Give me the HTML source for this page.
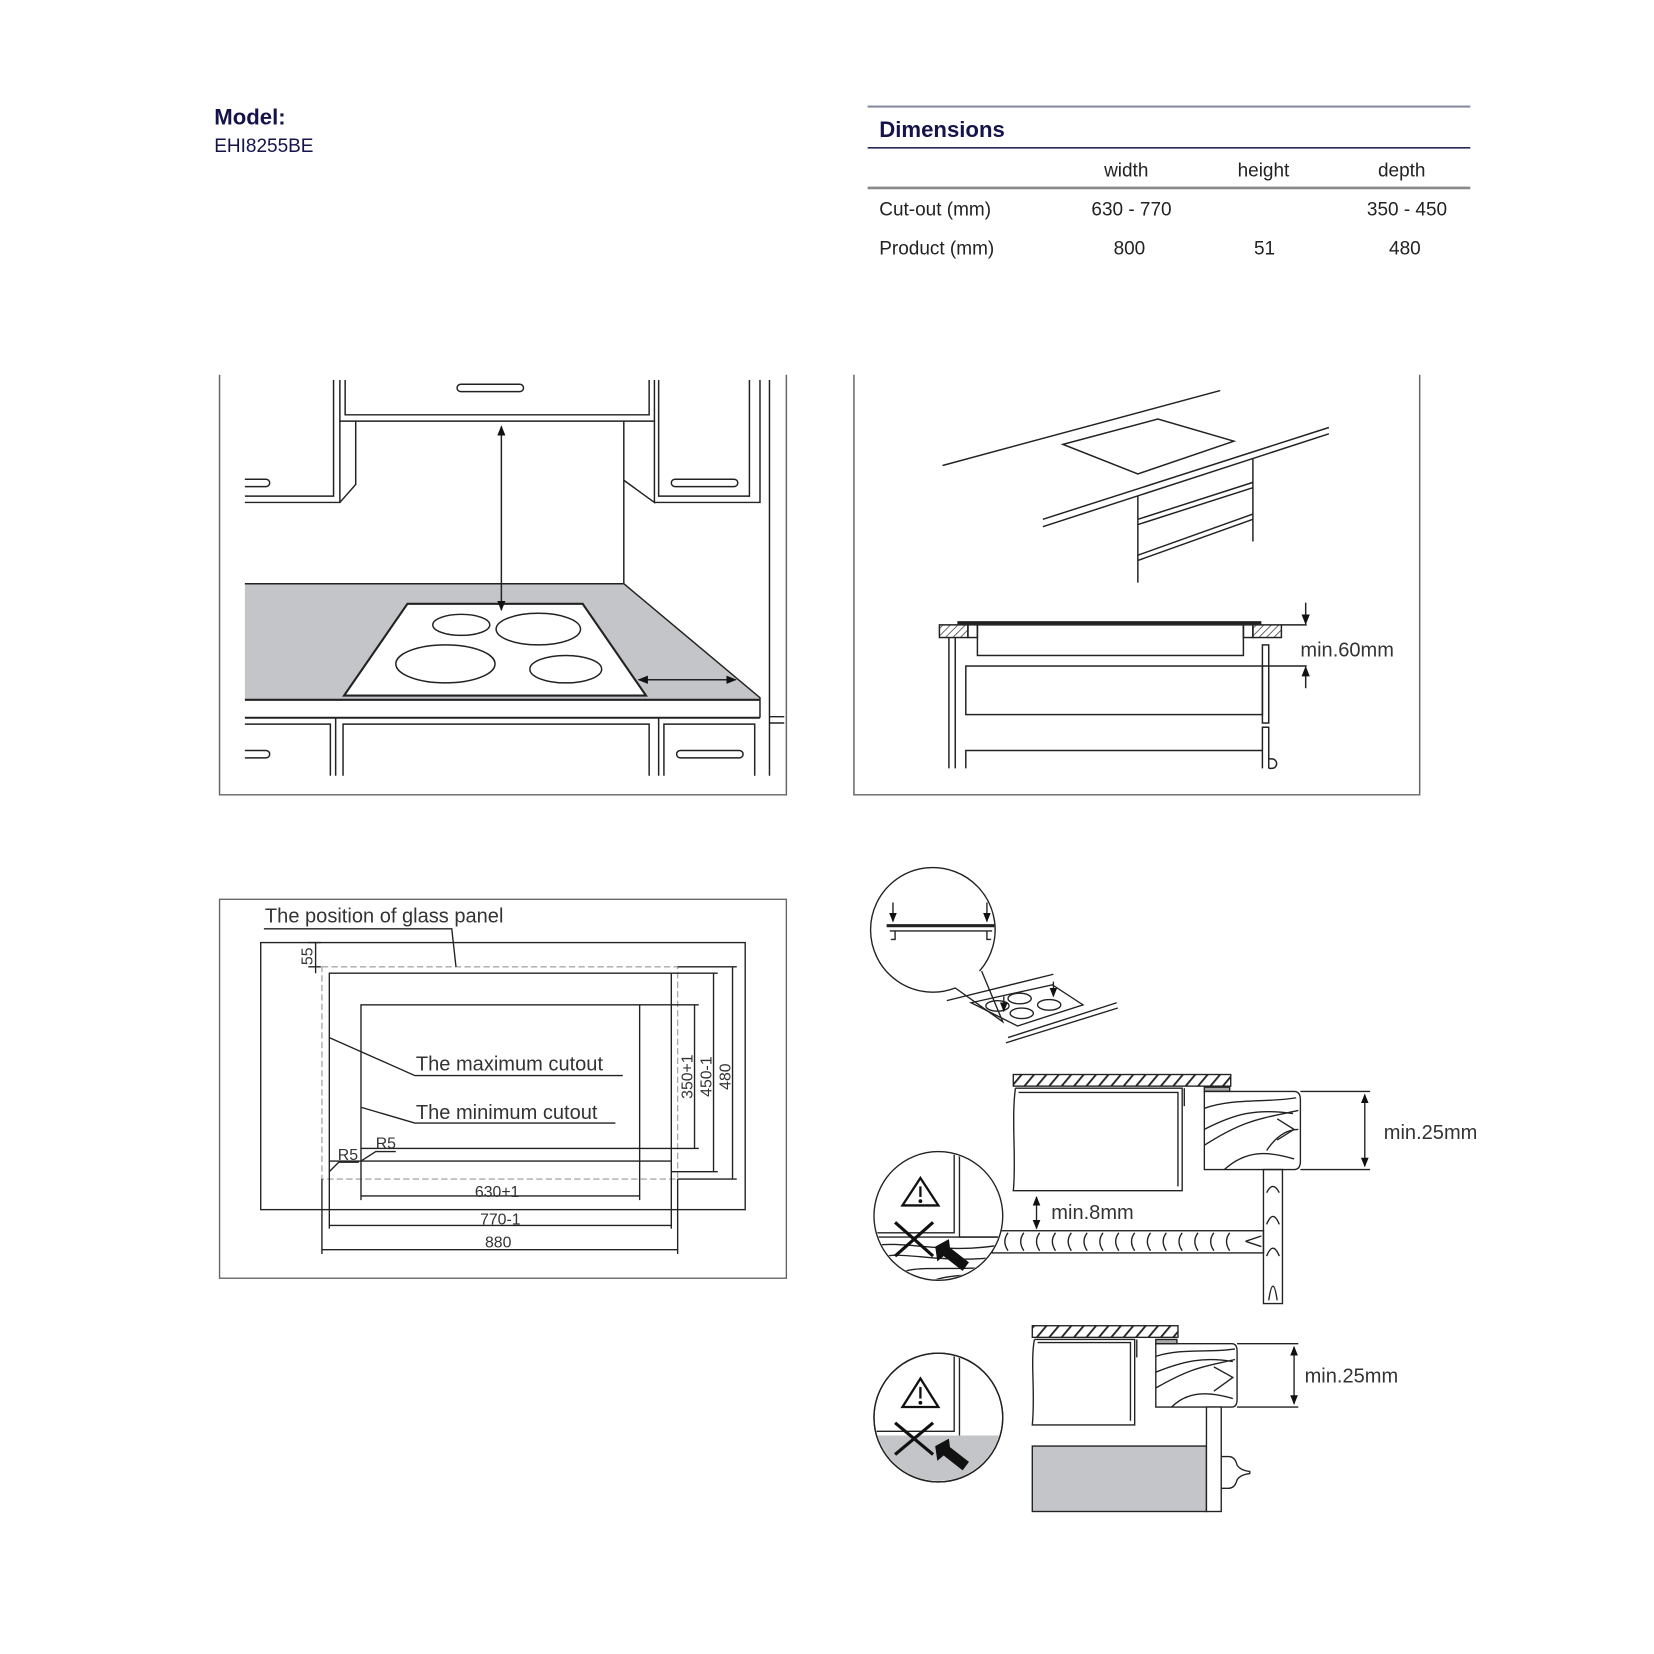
<!DOCTYPE html>
<html><head><meta charset="utf-8"><style>
html,body{margin:0;padding:0;background:#fff;}
svg{display:block;}
text{font-family:"Liberation Sans",sans-serif;}
</style></head><body>
<svg width="1654" height="1654" viewBox="0 0 1567 1567" xmlns="http://www.w3.org/2000/svg">
<defs>
<pattern id="hatch" width="5" height="5" patternUnits="userSpaceOnUse" patternTransform="rotate(45)">
<rect width="5" height="5" fill="#fff"/><line x1="0" y1="0" x2="0" y2="5" stroke="#333" stroke-width="1.4"/></pattern>
<pattern id="hatch2" width="9" height="9" patternUnits="userSpaceOnUse" patternTransform="rotate(40)">
<rect width="9" height="9" fill="#fff"/><line x1="0" y1="0" x2="0" y2="9" stroke="#222" stroke-width="3.5"/></pattern>
<marker id="ah" viewBox="0 0 10 10" refX="9" refY="5" markerWidth="7" markerHeight="7" orient="auto-start-reverse"><path d="M0,1 L10,5 L0,9 Z" fill="#111"/></marker>
<clipPath id="c2"><circle cx="889" cy="1152" r="60"/></clipPath>
<clipPath id="c3"><circle cx="889" cy="1343" r="60"/></clipPath>
</defs>

<text x="203" y="118" font-size="21" font-weight="bold" fill="#14134a">Model:</text>
<text x="203" y="144" font-size="18" fill="#14134a">EHI8255BE</text>

<line x1="822" y1="101" x2="1393" y2="101" stroke="#8a8ca0" stroke-width="2"/>
<text x="833" y="130" font-size="21" font-weight="bold" fill="#14134a">Dimensions</text>
<line x1="822" y1="140" x2="1393" y2="140" stroke="#2a2a5a" stroke-width="1.5"/>
<g font-size="18" fill="#222">
<text x="1067" y="167" text-anchor="middle">width</text>
<text x="1197" y="167" text-anchor="middle">height</text>
<text x="1328" y="167" text-anchor="middle">depth</text>
<text x="833" y="204">Cut-out (mm)</text>
<text x="1072" y="204" text-anchor="middle">630 - 770</text>
<text x="1333" y="204" text-anchor="middle">350 - 450</text>
<text x="833" y="241">Product (mm)</text>
<text x="1070" y="241" text-anchor="middle">800</text>
<text x="1198" y="241" text-anchor="middle">51</text>
<text x="1331" y="241" text-anchor="middle">480</text>
</g>
<line x1="822" y1="178" x2="1393" y2="178" stroke="#888" stroke-width="2.5"/>

<g fill="none" stroke="#222" stroke-width="1.4">
<path d="M208,355 V753 H745 V355" stroke="#666"/>
<polygon points="232,553 591,553 720,661 720,663 232,663" fill="#c4c5c8" stroke="none"/>
<path d="M591,553 L720,661 V680"/>
<line x1="232" y1="553" x2="591" y2="553"/>
<line x1="232" y1="663" x2="720" y2="663" stroke-width="2"/>
<line x1="232" y1="680" x2="720" y2="680" stroke-width="2"/>
<path d="M327,360 V393 H615 V360"/>
<path d="M316,360 V470 H232"/>
<path d="M322,360 V399 H620 V360"/>
<path d="M232,476 H322 V399"/>
<path d="M337,399 V459 L322,476"/>
<line x1="591" y1="399" x2="591" y2="553"/>
<path d="M591,455 L620,476 V399"/>
<path d="M620,476 H720 V360"/>
<path d="M624,360 V470 H710 V360"/>
<line x1="729" y1="360" x2="729" y2="735"/>
<path d="M729,679 H743 M729,685 H743"/>
<rect x="433" y="364" width="63" height="7" rx="3.5"/>
<path d="M232,454 H252 A3.5,3.5 0 0 1 252,461 H232"/>
<rect x="636" y="454" width="63" height="7" rx="3.5"/>
<polygon points="386,572 552,572 612,659 326,659" fill="#fff" stroke-width="2"/>
<ellipse cx="437" cy="592" rx="27" ry="10"/>
<ellipse cx="510" cy="596" rx="40" ry="15"/>
<ellipse cx="422" cy="629" rx="47" ry="18"/>
<ellipse cx="536" cy="634" rx="34" ry="13"/>
<line x1="475" y1="404" x2="475" y2="578" marker-start="url(#ah)" marker-end="url(#ah)"/>
<line x1="605" y1="644" x2="697" y2="644" marker-start="url(#ah)" marker-end="url(#ah)"/>
<path d="M232,686 H313 V735 M318,680 V735"/>
<path d="M325,735 V686 H615 V735"/>
<path d="M624,680 V735 M629,735 V686 H715 V735"/>
<path d="M232,711 H252 A3.5,3.5 0 0 1 252,718 H232"/>
<rect x="641" y="711" width="63" height="7" rx="3.5"/>
</g>

<g fill="none" stroke="#222" stroke-width="1.4">
<path d="M809,355 V753 H1345 V355" stroke="#666"/>
<line x1="893" y1="441" x2="1156" y2="370"/>
<polygon points="1007,421 1097,397 1169,418 1078,449"/>
<line x1="988" y1="492" x2="1259" y2="405"/>
<line x1="988" y1="499" x2="1259" y2="411"/>
<line x1="1078" y1="470" x2="1078" y2="552"/>
<line x1="1187" y1="434" x2="1187" y2="513"/>
<line x1="1078" y1="492" x2="1187" y2="457"/><line x1="1078" y1="497" x2="1187" y2="462"/>
<line x1="1078" y1="526" x2="1187" y2="487"/><line x1="1078" y1="531" x2="1187" y2="492"/>
<rect x="890" y="592" width="27" height="12" fill="url(#hatch)"/>
<rect x="1187" y="592" width="27" height="12" fill="url(#hatch)"/>
<line x1="907" y1="590" x2="1195" y2="590" stroke-width="3"/>
<rect x="917" y="592" width="9" height="12"/>
<rect x="1178" y="592" width="9" height="12"/>
<rect x="926" y="592" width="252" height="29"/>
<line x1="1214" y1="592" x2="1238" y2="592"/>
<line x1="1237" y1="571" x2="1237" y2="591" marker-end="url(#ah)"/>
<rect x="915" y="631" width="281" height="46"/>
<line x1="1196" y1="631" x2="1238" y2="631"/>
<line x1="1237" y1="652" x2="1237" y2="632" marker-end="url(#ah)"/>
<path d="M899,604 V728 M905,604 V728"/>
<rect x="1196" y="611" width="6" height="74"/>
<path d="M1196,728 V689 H1202 V728 M1202,719 h3 a4,4 0 0 1 0,9 h-3"/>
<path d="M915,728 V711 H1196"/>
</g>
<text x="1232" y="622" font-size="19" fill="#333">min.60mm</text>

<g fill="none" stroke="#222" stroke-width="1.3">
<rect x="208" y="852" width="537" height="359" stroke="#666"/>
<rect x="247" y="893" width="459" height="253"/>
<rect x="305" y="916" width="337" height="201" stroke="#aaa" stroke-dasharray="6,3"/>
<rect x="312" y="922" width="324" height="178"/>
<rect x="342" y="952" width="264" height="136"/>
<path d="M250,880 H428 L432,916"/>
<path d="M299,893 V922 M292,893 H304 M292,916 H304" />
<path d="M606,952 H662 M606,1088 H662 M658,952 V1088"/>
<path d="M636,922 H680 M636,1110 H680 M676,922 V1110"/>
<path d="M642,916 H698 M642,1117 H698 M694,916 V1117"/>
<path d="M305,1117 V1188 M312,1100 V1164 M342,1088 V1137 M606,1088 V1137 M636,1100 V1164 M642,1117 V1188"/>
<line x1="342" y1="1133" x2="606" y2="1133"/>
<line x1="312" y1="1161" x2="636" y2="1161"/>
<line x1="305" y1="1184" x2="642" y2="1184"/>
<path d="M312,983 L393,1019 H590"/>
<path d="M342,1049 L393,1064 H583"/>
<path d="M342,1100 L356,1091 H375"/>
<path d="M312,1110 L321,1101 H340"/>
</g>
<g fill="#333">
<text x="251" y="874" font-size="19">The position of glass panel</text>
<text x="394" y="1014" font-size="19">The maximum cutout</text>
<text x="394" y="1060" font-size="19">The minimum cutout</text>
<text x="356" y="1088" font-size="15">R5</text>
<text x="320" y="1099" font-size="15">R5</text>
<text x="471" y="1134" font-size="15" text-anchor="middle">630+1</text>
<text x="474" y="1160" font-size="15" text-anchor="middle">770-1</text>
<text x="472" y="1182" font-size="15" text-anchor="middle">880</text>
<text transform="translate(296,906) rotate(-90)" font-size="15" text-anchor="middle">55</text>
<text transform="translate(656,1020) rotate(-90)" font-size="15" text-anchor="middle">350+1</text>
<text transform="translate(674,1020) rotate(-90)" font-size="15" text-anchor="middle">450-1</text>
<text transform="translate(692,1020) rotate(-90)" font-size="15" text-anchor="middle">480</text>
</g>

<g fill="none" stroke="#222" stroke-width="1.3">
<path d="M928,920 A59,59 0 1 0 905,936 L950,968 L930,920"/>
<line x1="840" y1="877" x2="942" y2="877" stroke-width="3"/>
<line x1="843" y1="882" x2="940" y2="882"/>
<path d="M848,882 V890 H844 M935,882 V890 H939"/>
<line x1="846" y1="855" x2="846" y2="873" marker-end="url(#ah)"/>
<line x1="935" y1="855" x2="935" y2="873" marker-end="url(#ah)"/>
<line x1="897" y1="948" x2="998" y2="923"/>
<polygon points="920,950 997,933 1026,952 964,972"/>
<line x1="955" y1="983" x2="1058" y2="950"/>
<line x1="953" y1="988" x2="1059" y2="955"/>
<ellipse cx="966" cy="946" rx="11" ry="5"/>
<ellipse cx="994" cy="952" rx="11" ry="5"/>
<ellipse cx="945" cy="953" rx="11" ry="5"/>
<ellipse cx="968" cy="960" rx="11" ry="5"/>
<line x1="998" y1="930" x2="998" y2="944" marker-end="url(#ah)"/>
<line x1="951" y1="944" x2="951" y2="958" marker-end="url(#ah)"/>
</g>

<g fill="none" stroke="#222" stroke-width="1.3">
<rect x="960" y="1018" width="206" height="11" fill="url(#hatch2)"/>
<path d="M962,1031 H1120 V1128 H960 C963,1100 958,1060 962,1031"/>
<path d="M965,1035 H1116 V1124"/>
<line x1="1122" y1="1031" x2="1122" y2="1048"/>
<rect x="1141" y="1030" width="24" height="4" fill="#aaa"/>
<path d="M1141,1034 H1226 Q1232,1034 1232,1042 V1100 Q1232,1108 1226,1108 H1141 Z"/>
<path d="M1141,1050 C1170,1040 1200,1045 1228,1040 M1141,1070 C1170,1055 1190,1050 1225,1055 M1141,1085 C1180,1060 1195,1060 1230,1052 M1160,1108 C1180,1090 1200,1090 1226,1098 M1200,1090 C1210,1075 1220,1070 1230,1070 M1210,1080 L1226,1070 L1210,1060"/>
<path d="M1232,1034 H1298 M1232,1108 H1298"/>
<line x1="1293" y1="1037" x2="1293" y2="1105" marker-start="url(#ah)" marker-end="url(#ah)"/>
<rect x="1197" y="1108" width="18" height="127"/>
<path d="M1200,1130 Q1206,1118 1212,1130 M1200,1160 Q1206,1145 1212,1160 M1200,1190 Q1206,1175 1212,1190 M1202,1232 Q1206,1205 1210,1232"/>
<rect x="940" y="1166" width="257" height="21"/>
<path d="M955,1168 q-6,8 0,17 M970,1168 q-6,8 0,17 M985,1168 q-6,8 0,17 M1000,1168 q-6,8 0,17 M1015,1168 q-6,8 0,17 M1030,1168 q-6,8 0,17 M1045,1168 q-6,8 0,17 M1060,1168 q-6,8 0,17 M1075,1168 q-6,8 0,17 M1090,1168 q-6,8 0,17 M1105,1168 q-6,8 0,17 M1120,1168 q-6,8 0,17 M1135,1168 q-6,8 0,17 M1150,1168 q-6,8 0,17 M1165,1168 q-6,8 0,17 M1180,1176 l15,-5 M1180,1176 l15,5"/>
<line x1="982" y1="1134" x2="982" y2="1164" marker-start="url(#ah)" marker-end="url(#ah)"/>
<circle cx="889" cy="1152" r="61" fill="#fff"/>
<g clip-path="url(#c2)">
<path d="M827,1168 H904 V1090 M909,1090 V1172 H955"/>
<line x1="827" y1="1172" x2="955" y2="1172"/>
<path d="M827,1180 C860,1175 900,1190 955,1178 M827,1195 C850,1180 880,1200 955,1190 M845,1215 C850,1195 890,1205 955,1200 M880,1215 C900,1205 930,1210 955,1205"/>
</g>
</g>
<text x="996" y="1155" font-size="19" fill="#333">min.8mm</text>
<text x="1311" y="1079" font-size="19" fill="#333">min.25mm</text>
<g stroke="#111" fill="none">
<path d="M872,1116 L889,1142 H855 Z" stroke-width="2.2" fill="#fff"/>
<line x1="872" y1="1124" x2="872" y2="1134" stroke-width="2.2"/><circle cx="872" cy="1138" r="1.3" fill="#111"/>
<path d="M848,1158 L884,1190 M884,1158 L848,1190" stroke-width="3"/>
</g>
<path d="M886,1181 L899,1174 L900,1182 L918,1196 L912,1204 L894,1190 L888,1195 Z" fill="#111"/>

<g fill="none" stroke="#222" stroke-width="1.3">
<rect x="978" y="1256" width="138" height="11" fill="url(#hatch2)"/>
<path d="M980,1269 H1075 V1350 H978 C981,1320 976,1290 980,1269"/>
<path d="M983,1272 H1071 V1346"/>
<line x1="1077" y1="1269" x2="1077" y2="1286"/>
<rect x="1095" y="1269" width="20" height="4" fill="#aaa"/>
<path d="M1095,1273 H1167 Q1172,1273 1172,1280 V1326 Q1172,1333 1167,1333 H1095 Z"/>
<path d="M1095,1285 C1120,1277 1145,1282 1170,1278 M1095,1300 C1120,1290 1140,1285 1168,1290 M1095,1315 C1130,1295 1140,1295 1170,1288 M1110,1333 C1125,1318 1145,1318 1168,1325 M1150,1318 L1168,1305 L1150,1295"/>
<path d="M1172,1273 H1230 M1172,1333 H1230"/>
<line x1="1226" y1="1276" x2="1226" y2="1330" marker-start="url(#ah)" marker-end="url(#ah)"/>
<rect x="978" y="1370" width="165" height="62" fill="#c4c5c8"/>
<rect x="1143" y="1333" width="14" height="99" fill="#fff"/>
<path d="M1157,1380 H1164 Q1170,1380 1172,1388 Q1175,1393 1184,1394 V1396 Q1175,1397 1172,1402 Q1170,1410 1164,1410 H1157"/>
<circle cx="889" cy="1343" r="61" fill="#fff"/>
<g clip-path="url(#c3)">
<rect x="827" y="1360" width="125" height="50" fill="#c4c5c8" stroke="none"/>
<path d="M827,1356 H904 V1280 M909,1280 V1360"/>
</g>
<circle cx="889" cy="1343" r="61"/>
</g>
<text x="1236" y="1310" font-size="19" fill="#333">min.25mm</text>
<g stroke="#111" fill="none">
<path d="M872,1306 L889,1333 H855 Z" stroke-width="2.2" fill="#fff"/>
<line x1="872" y1="1314" x2="872" y2="1325" stroke-width="2.2"/><circle cx="872" cy="1329" r="1.3" fill="#111"/>
<path d="M848,1348 L884,1378 M884,1348 L848,1378" stroke-width="3"/>
</g>
<path d="M886,1370 L899,1363 L900,1371 L918,1385 L912,1393 L894,1379 L888,1384 Z" fill="#111"/>
</svg>
</body></html>
